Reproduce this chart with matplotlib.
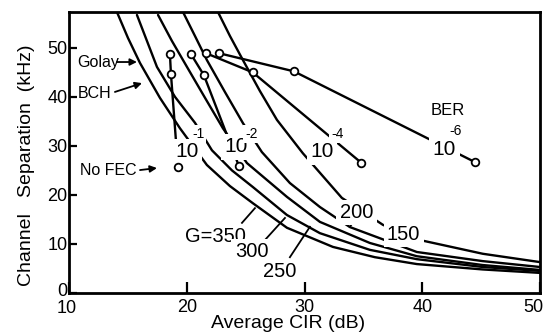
import matplotlib
matplotlib.use('Agg')
import matplotlib.pyplot as plt
from matplotlib.transforms import ScaledTranslation

plt.rcParams['font.family'] = ['Liberation Sans', 'DejaVu Sans']

# ---- data: constant-G curves (Average CIR dB, channel separation kHz) ----
g_names = ['350', '300', '250', '200', '150']
g350_x = [14.07, 15.01, 16.03, 17.72, 19.42, 21.71, 23.67, 25.62, 28.51, 32.41, 35.98, 39.54, 45.14, 50.0]
g350_y = [57.3, 52.0, 46.9, 39.8, 33.6, 26.1, 21.8, 18.3, 13.3, 9.4, 7.3, 5.9, 4.8, 4.1]
g300_x = [15.77, 16.62, 17.47, 19.00, 20.70, 22.14, 23.84, 25.62, 28.51, 31.31, 35.55, 39.54, 45.14, 50.0]
g300_y = [56.7, 51.4, 46.1, 40.0, 34.7, 29.1, 25.0, 21.6, 15.9, 12.2, 8.8, 6.9, 5.3, 4.5]
g250_x = [17.56, 18.74, 20.02, 21.55, 23.07, 25.11, 28.51, 31.31, 35.55, 39.54, 45.14, 50.0]
g250_y = [56.7, 51.4, 46.1, 39.8, 33.6, 26.5, 19.6, 14.5, 10.2, 7.5, 5.7, 4.7]
g200_x = [19.68, 20.70, 21.71, 23.24, 24.77, 26.38, 28.76, 31.31, 33.85, 39.54, 45.14, 50.0]
g200_y = [57.3, 52.4, 47.5, 41.0, 34.65, 28.74, 22.42, 17.53, 13.45, 8.36, 6.5, 5.3]
g150_x = [22.65, 23.67, 24.77, 26.21, 27.66, 29.86, 33.17, 36.66, 39.80, 45.14, 50.0]
g150_y = [57.3, 52.4, 47.5, 41.2, 35.3, 28.5, 19.4, 13.9, 10.8, 8.0, 6.3]

# ---- data: BER points for each coding scheme ----
ber_exp = ['-1', '-2', '-4', '-6']
golay_x = [18.57, 20.36, 21.63, 22.73]
golay_y = [48.7, 48.7, 48.9, 48.9]
bch_x = [18.66, 21.46, 25.60, 29.10]
bch_y = [44.6, 44.4, 45.0, 45.2]
nofec_x = [19.25, 24.43, 34.80, 44.47]
nofec_y = [25.7, 25.9, 26.6, 26.7]

xticks = [10, 20, 30, 40, 50]
yticks = [0, 10, 20, 30, 40, 50]

fig = plt.figure(figsize=(5.46, 3.35), dpi=100)
ax = fig.add_axes([69/546, 42/335, 471/546, 281/335])
ax.set_xlim(10, 50)
ax.set_ylim(0, 57.3)

lw = 1.7
for gx, gy in [(g350_x, g350_y), (g300_x, g300_y), (g250_x, g250_y),
               (g200_x, g200_y), (g150_x, g150_y)]:
    ax.plot(gx, gy, color='black', lw=lw, zorder=2, solid_capstyle='round',
            solid_joinstyle='round')

for i in range(len(ber_exp)):
    ax.plot([golay_x[i], bch_x[i], nofec_x[i]], [golay_y[i], bch_y[i], nofec_y[i]],
            color='black', lw=lw, zorder=3)
    ax.plot([golay_x[i], bch_x[i], nofec_x[i]], [golay_y[i], bch_y[i], nofec_y[i]],
            ls='none', marker='o', ms=5.5, mfc='white', mec='black', mew=1.3, zorder=6)

wbox = dict(facecolor='white', edgecolor='none', pad=2.5)
sbox = dict(facecolor='white', edgecolor='none', pad=1.5)
ten_pos = [(19.0, 27.7), (23.2, 28.7), (30.5, 27.7), (40.9, 28.1)]
sup_pos = [(20.44, 31.6), (24.94, 31.6), (32.24, 31.6), (42.34, 32.2)]
for (tx, ty), (sx, sy), e in zip(ten_pos, sup_pos, ber_exp):
    ax.text(tx, ty, '10', fontsize=15, ha='left', va='baseline', bbox=wbox, zorder=5)
    ax.text(sx, sy, e, fontsize=10, ha='left', va='baseline', bbox=sbox, zorder=5)
ax.text(40.73, 36.3, 'BER', fontsize=12, ha='left', va='baseline', zorder=5)

# G labels
ax.text(19.85, 10.4, 'G=' + g_names[0], fontsize=14.5, ha='left', va='baseline', bbox=wbox, zorder=5)
ax.text(24.09, 7.34, g_names[1], fontsize=14.5, ha='left', va='baseline', bbox=wbox, zorder=5)
ax.text(26.47, 3.26, g_names[2], fontsize=14.5, ha='left', va='baseline', bbox=wbox, zorder=5)
ax.text(33.0, 15.29, g_names[3], fontsize=14.5, ha='left', va='baseline', bbox=wbox, zorder=5)
ax.text(37.0, 10.8, g_names[4], fontsize=14.5, ha='left', va='baseline', bbox=wbox, zorder=5)
for (x0, y0), (x1, y1) in [((24.69, 14.3), (25.79, 17.3)),
                           ((26.64, 10.8), (28.34, 15.3)),
                           ((28.76, 7.3), (30.46, 13.5)),
                           ((34.28, 14.9), (33.85, 13.5))]:
    ax.plot([x0, x1], [y0, y1], color='black', lw=1.3, zorder=4)

# code labels with arrows
ax.text(10.68, 46.07, 'Golay', fontsize=11.5, ha='left', va='baseline')
ax.text(10.76, 39.75, 'BCH', fontsize=11.5, ha='left', va='baseline')
ax.text(10.93, 24.05, 'No FEC', fontsize=11.5, ha='left', va='baseline')
arr = dict(arrowstyle='-|>', lw=1.3, color='black', mutation_scale=10, shrinkA=0, shrinkB=0)
ax.annotate('', xy=(15.77, 47.1), xytext=(14.07, 47.1), arrowprops=arr)
ax.annotate('', xy=(16.2, 42.8), xytext=(13.9, 41.0), arrowprops=arr)
ax.annotate('', xy=(17.47, 25.48), xytext=(16.03, 25.07), arrowprops=arr)

ax.set_xticks(xticks)
ax.set_yticks(yticks)
ax.set_xticklabels([str(t) for t in xticks])
ax.set_yticklabels([str(t) for t in yticks])
ax.tick_params(axis='x', direction='in', length=8, width=1.6, labelsize=13, pad=4)
ax.tick_params(axis='y', direction='in', length=6, width=1.6, labelsize=13, pad=1)
for s in ax.spines.values():
    s.set_linewidth(2.0)

# nudge corner tick labels as in the reference
xl = ax.get_xticklabels()
xl[-1].set_transform(xl[-1].get_transform() + ScaledTranslation(-7/100, 0, fig.dpi_scale_trans))
xl[0].set_transform(xl[0].get_transform() + ScaledTranslation(-2/100, -1/100, fig.dpi_scale_trans))
yl = ax.get_yticklabels()
yl[0].set_transform(yl[0].get_transform() + ScaledTranslation(0, 4/100, fig.dpi_scale_trans))

fig.text(0.527, 0.033, 'Average CIR (dB)', fontsize=14, ha='center', va='center')
fig.text(0.049, 0.507, 'Channel   Separation  (kHz)', fontsize=14, ha='center', va='center',
         rotation=90)

fig.savefig('out.png', dpi=100)
